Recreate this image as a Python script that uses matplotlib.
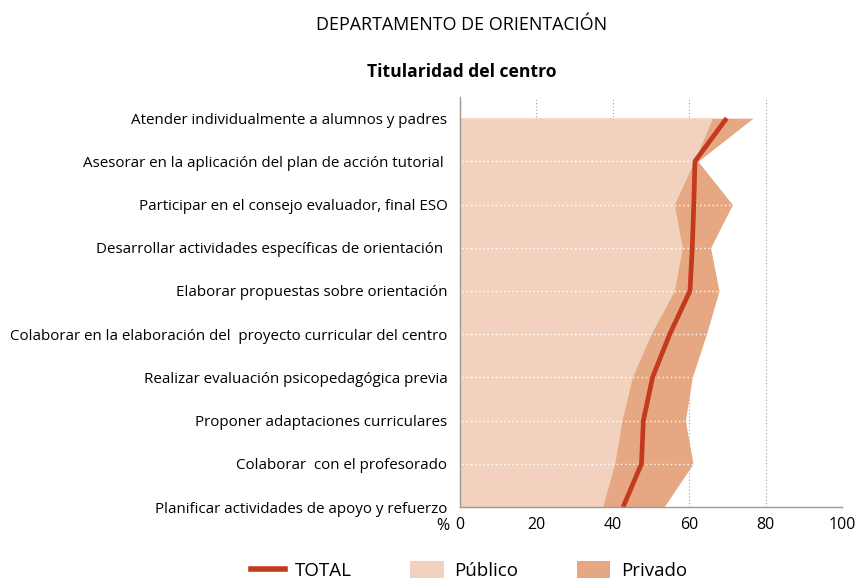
import numpy as np
import matplotlib
matplotlib.use("Agg")
from matplotlib import pyplot as plt
from matplotlib.lines import Line2D
from matplotlib.patches import Patch

plt.rcParams['font.family'] = ['Open Sans', 'DejaVu Sans']

categories = [
    "Atender individualmente a alumnos y padres",
    "Asesorar en la aplicación del plan de acción tutorial ",
    "Participar en el consejo evaluador, final ESO",
    "Desarrollar actividades específicas de orientación ",
    "Elaborar propuestas sobre orientación",
    "Colaborar en la elaboración del  proyecto curricular del centro",
    "Realizar evaluación psicopedagógica previa",
    "Proponer adaptaciones curriculares",
    "Colaborar  con el profesorado",
    "Planificar actividades de apoyo y refuerzo",
]
publico = [66.1, 61.3, 56.1, 58.2, 56.1, 50.0, 45.1, 42.4, 40.5, 37.3]
privado = [76.7, 62.3, 71.3, 65.6, 67.8, 64.5, 60.8, 59.0, 61.0, 53.4]
total = [69.8, 61.5, 61.2, 60.8, 60.2, 54.9, 50.4, 48.0, 47.5, 42.7]
xticks = [0, 20, 40, 60, 80, 100]

c_pub = "#F2D2BE"
c_priv = "#E5A883"
c_tot = "#C43A1C"
c_axis = "#9A9A9A"

fig = plt.figure(figsize=(8.58, 5.86), dpi=100)
ax = fig.add_axes([0.5361, 0.1348, 0.4453, 0.6997])

y = np.arange(len(categories))
ax.fill_betweenx(y, 0, privado, color=c_priv, linewidth=0, zorder=2)
ax.fill_betweenx(y, 0, publico, color=c_pub, linewidth=0, zorder=3)
ax.hlines(y[1:-1], 0.5, np.array(privado)[1:-1], colors="white", linestyles=(0, (1, 2)),
          linewidth=1, zorder=4)
ax.plot(total, y, color=c_tot, linewidth=3.4, zorder=5, solid_capstyle='butt')

ax.set_xlim(0, 100)
ax.set_ylim(len(categories) - 1, -0.49)
ax.set_xticks(xticks)
ax.set_yticks(y)
ax.set_yticklabels(categories, fontsize=10.9)
ax.tick_params(axis='x', labelsize=11.5, length=0, pad=7)
ax.tick_params(axis='y', length=0, pad=9)
ax.grid(axis='x', linestyle=(0, (1, 2)), color="#A0A0A0", linewidth=0.8, zorder=0)
ax.set_axisbelow(True)
for s in ['top', 'right']:
    ax.spines[s].set_visible(False)
for s in ['left', 'bottom']:
    ax.spines[s].set_color(c_axis)
    ax.spines[s].set_linewidth(1.0)
    ax.spines[s].set_zorder(6)
ax.text(-0.027, -0.046, "%", transform=ax.transAxes, ha='right', va='center', fontsize=11.5)

fig.text(0.5385, 0.957, "DEPARTAMENTO DE ORIENTACIÓN", ha='center', va='center', fontsize=12.9)
fig.text(0.5385, 0.877, "Titularidad del centro", ha='center', va='center', fontsize=12.6,
         fontweight='bold')

handles = [
    Line2D([], [], color=c_tot, linewidth=4),
    Patch(facecolor=c_pub, edgecolor='none'),
    Patch(facecolor=c_priv, edgecolor='none'),
]
fig.legend(handles, ["TOTAL", "Público", "Privado"], loc='center', ncol=3,
           bbox_to_anchor=(0.5466, 0.026), frameon=False, fontsize=13.5,
           handlelength=1.8, handleheight=1.0, columnspacing=3.1, handletextpad=0.55)

fig.savefig("out.png", dpi=100)
